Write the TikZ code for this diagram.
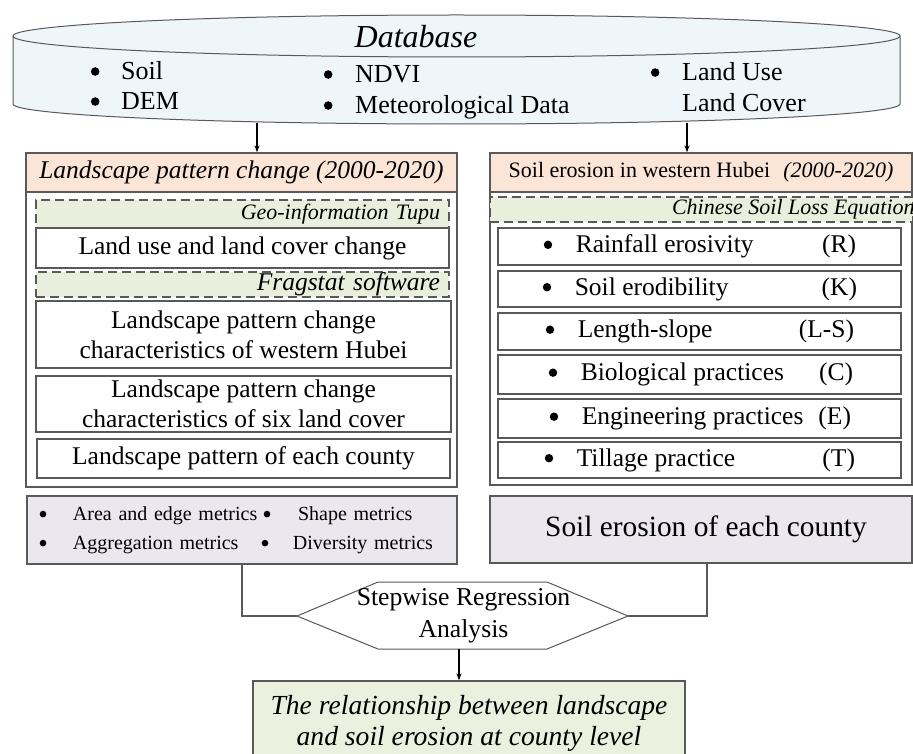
\documentclass[tikz,border=0pt]{standalone}
\usepackage{fontspec}
\setmainfont{Liberation Serif}
\usetikzlibrary{arrows.meta,calc}
\definecolor{cyl}{HTML}{EEF6F9}
\definecolor{peach}{HTML}{FBE5D6}
\definecolor{pgreen}{HTML}{E9EFDC}
\definecolor{lav}{HTML}{EAE7EE}
\definecolor{rgreen}{HTML}{EBF1DE}
\definecolor{edge}{HTML}{595959}
\newcommand\myfs[2]{\fontsize{#1}{#2}\selectfont}
\newcommand\bul{\tikz[baseline=-0.31em]\fill[black] (0pt,0pt) circle[radius=0.165em];}
\newcommand\itemrow[4]{\makebox[403pt][l]{\hspace*{#1}\makebox[32pt][l]{\bul}#2\hfill#3\hspace*{#4}}}
\begin{document}
\begin{tikzpicture}[x=1pt,y=-1pt,
  box/.style={draw=edge,line width=1.3pt,inner sep=0pt,fill=white,font=\myfs{25.5}{30}},
  dbox/.style={draw=edge,dash pattern=on 9pt off 5pt,line width=1.2pt,fill=pgreen,inner sep=0pt},
  arr/.style={line width=1.3pt,-{Stealth[length=7pt,width=5pt]}},
  conn/.style={draw=edge,line width=1.3pt},
  dbtext/.style={anchor=base west,inner sep=0pt,font=\myfs{26}{30}}]
\path[use as bounding box,fill=white] (0,0) rectangle (913,754);

% database cylinder
\draw[draw=edge,line width=1pt,fill=cyl] (13,36) -- (13,104)
  arc[start angle=180,end angle=360,x radius=443.5pt,y radius=20pt] -- (900,36)
  arc[start angle=0,end angle=180,x radius=443.5pt,y radius=21pt] -- cycle;
\draw[draw=edge,line width=1pt] (13,36) arc[start angle=180,end angle=360,x radius=443.5pt,y radius=21pt];
\node[inner sep=0pt,font=\myfs{32}{36}\itshape] (dbt) at (416,37) {Database};
\node[dbtext] (d1) at (90.7,79.6) {\makebox[30.3pt][l]{\bul}Soil};
\node[dbtext] (d2) at (90.7,109.6) {\makebox[30.3pt][l]{\bul}DEM};
\node[dbtext] (d3) at (323.7,82.6) {\makebox[31.3pt][l]{\bul}NDVI};
\node[dbtext] (d4) at (323.7,113.6) {\makebox[31.3pt][l]{\bul}Meteorological Data};
\node[dbtext] (d5) at (650.7,80.6) {\makebox[31.3pt][l]{\bul}Land Use};
\node[dbtext] (d6) at (682,111.6) {Land Cover};
\coordinate (dbA) at (257,123);
\coordinate (dbB) at (687,123);

% left column
\node[box,minimum width=431pt,minimum height=334pt] (L) at (241.5,320) {};
\node[box,fill=peach,minimum width=431pt,minimum height=39pt,font=\myfs{25.5}{30}\itshape] (hL) at (241.5,172.5) {Landscape pattern change (2000-2020)};
\node[dbox,minimum width=413pt,minimum height=28pt,text width=395pt,align=right,font=\myfs{22}{26}\itshape] (geo) at (242.5,214) {Geo-information Tupu};
\node[box,minimum width=413pt,minimum height=40pt] (lu) at (242.5,248) {Land use and land cover change};
\node[dbox,minimum width=413pt,minimum height=25pt,text width=395pt,align=right,font=\myfs{25.5}{30}\itshape] (fs) at (242.5,284.5) {Fragstat software};
\node[box,minimum width=415pt,minimum height=67pt,align=center] (p1) at (243.5,334.5) {Landscape pattern change\\characteristics of western Hubei};
\node[box,minimum width=415pt,minimum height=56pt,align=center] (p2) at (243.5,404) {Landscape pattern change\\characteristics of six land cover};
\node[box,minimum width=413pt,minimum height=39pt] (p3) at (243.5,458.5) {Landscape pattern of each county};

% right column
\node[box,minimum width=422pt,minimum height=332pt] (R) at (701,319) {};
\node[box,fill=peach,minimum width=422pt,minimum height=39pt,font=\myfs{22}{26}] (hR) at (701,172.5) {Soil erosion in western Hubei\hspace{0.6em}\textit{(2000-2020)}};
\node[dbox,minimum width=423pt,minimum height=25pt,font=\myfs{22}{26}\itshape] (csle) at (701.5,209.5) {\makebox[423pt][l]{\hspace*{182pt}Chinese Soil Loss Equation}};
\node[box,minimum width=403pt,minimum height=37pt] (r1) at (699.5,246.5) {\itemrow{45.8pt}{Rainfall erosivity}{(R)}{45pt}};
\node[box,minimum width=403pt,minimum height=36pt] (r2) at (699.5,289) {\itemrow{44.8pt}{Soil erodibility}{(K)}{44pt}};
\node[box,minimum width=403pt,minimum height=37pt] (r3) at (699.5,331.5) {\itemrow{47.8pt}{Length-slope}{(L-S)}{47pt}};
\node[box,minimum width=403pt,minimum height=39pt] (r4) at (699.5,374.5) {\itemrow{50.8pt}{Biological practices}{(C)}{48pt}};
\node[box,minimum width=403pt,minimum height=39pt] (r5) at (699.5,418.5) {\itemrow{51.8pt}{Engineering practices}{(E)}{50pt}};
\node[box,minimum width=403pt,minimum height=36pt] (r6) at (699.5,460) {\itemrow{46.8pt}{Tillage practice}{(T)}{46pt}};

% arrows from database
\draw[arr] (dbA) -- (dbA |- hL.north);
\draw[arr] (dbB) -- (dbB |- hR.north);

% bottom boxes
\node[box,fill=lav,minimum width=430pt,minimum height=68pt,text width=430pt,align=left,font=\myfs{20}{29}] (met) at (242,530)
 {\hspace*{12.7pt}\makebox[33.3pt][l]{\bul}\makebox[190.7pt][l]{Area and edge metrics}\makebox[34.3pt][l]{\bul}Shape metrics\\
  \hspace*{12.7pt}\makebox[33.3pt][l]{\bul}\makebox[188.7pt][l]{Aggregation metrics}\makebox[31.3pt][l]{\bul}Diversity metrics};
\node[box,fill=lav,minimum width=422pt,minimum height=67pt,font=\myfs{29.4}{34}] (soil) at (701,529.5) {\hspace*{10pt}Soil erosion of each county};

% hexagon
\coordinate (hW) at (297,616);
\coordinate (hE) at (628,616);
\coordinate (hS) at (459,649);
\draw[draw=edge,line width=1pt,fill=white] (hW) -- (378,582) -- (547,582) -- (hE) -- (547,649) -- (378,649) -- cycle;
\node[inner sep=0pt,align=center,font=\myfs{25.7}{32}] (hex) at (463.5,616) {Stepwise Regression\\Analysis};

\draw[conn] (met.south) |- (hW);
\draw[conn] ([xshift=6pt]soil.south) |- (hE);

% result
\node[box,fill=rgreen,minimum width=432pt,minimum height=85pt,align=center,font=\myfs{27.6}{31}\itshape] (res) at (469,723.5) {The relationship between landscape\\and soil erosion at county level};
\draw[arr] (hS) -- (hS |- res.north);
\end{tikzpicture}
\end{document}
